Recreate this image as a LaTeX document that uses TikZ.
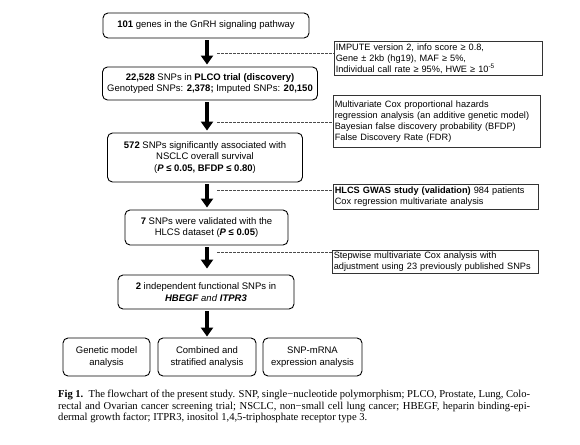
\documentclass[tikz,border=0pt]{standalone}
\usepackage{fontspec}
\setmainfont{Liberation Sans}
\newfontfamily\capfont{Liberation Serif}
\usetikzlibrary{arrows.meta,calc}
\tikzset{
  mainbox/.style={draw=black, line width=0.9pt, rounded corners=5pt, align=center, font=\fontsize{9.5}{11.5}\selectfont, inner sep=1pt},
  notebox/.style={draw=black!80, line width=0.6pt, anchor=north west, align=left, font=\fontsize{9.2}{11}\selectfont, inner sep=1.5pt},
  bigarrow/.style={line width=4.5pt, -{Triangle[length=9pt,width=12pt]}, shorten <=2pt, shorten >=2pt},
  dashline/.style={draw=black!70, line width=0.6pt, dash pattern=on 2.5pt off 1.5pt}
}
\begin{document}
\begin{tikzpicture}[x=1pt,y=-1pt]
\useasboundingbox[fill=white] (0,0) rectangle (580,444);
% main boxes
\node[mainbox, minimum width=206pt, minimum height=25pt] (b1) at (206,25.5) {\textbf{101} genes in the GnRH signaling pathway};
\node[mainbox, minimum width=215pt, minimum height=33pt] (b2) at (210,83.5) {\textbf{22,528} SNPs in \textbf{PLCO trial (discovery)}\\Genotyped SNPs: \textbf{2,378;} Imputed SNPs: \textbf{20,150}};
\node[mainbox, minimum width=195pt, minimum height=49pt] (b3) at (205,157.5) {\textbf{572} SNPs significantly associated with\\NSCLC overall survival\\(\textbf{\textit{P} ≤ 0.05, BFDP ≤ 0.80})};
\node[mainbox, minimum width=163pt, minimum height=35pt] (b4) at (206.5,227.5) {\textbf{7} SNPs were validated with the\\HLCS dataset (\textbf{\textit{P} ≤ 0.05})};
\node[mainbox, minimum width=176pt, minimum height=34pt] (b5) at (206,292) {\textbf{2} independent functional SNPs in\\\textbf{\textit{HBEGF}} \textit{and} \textbf{\textit{ITPR3}}};
\node[mainbox, minimum width=87pt, minimum height=38pt] (c1) at (106.5,357) {Genetic model\\analysis};
\node[mainbox, minimum width=98pt, minimum height=38pt] (c2) at (207,357) {Combined and\\stratified analysis};
\node[mainbox, minimum width=99pt, minimum height=38pt] (c3) at (312.5,357) {SNP-mRNA\\expression analysis};
% arrows
\draw[bigarrow] (b1.south -| 207,0) -- (b2.north -| 207,0);
\draw[bigarrow] (b2.south -| 207,0) -- (b3.north -| 207,0);
\draw[bigarrow] (b3.south -| 207,0) -- (b4.north -| 207,0);
\draw[bigarrow, shorten >=6pt] (b4.south -| 207,0) -- (b5.north -| 207,0);
\draw[bigarrow, shorten >=1pt] (b5.south -| 207,0) -- (c2.north -| 207,0);
% note boxes
\node[notebox, text width=205pt, minimum height=34pt] (r1) at (334,41) {IMPUTE version 2, info score ≥ 0.8,\\Gene ± 2kb (hg19), MAF ≥ 5\%,\\Individual call rate ≥ 95\%, HWE ≥ 10\textsuperscript{-5}};
\node[notebox, text width=204pt, minimum height=52pt] (r2) at (333,95) {Multivariate Cox proportional hazards\\regression analysis (an additive genetic model)\\Bayesian false discovery probability (BFDP)\\False Discovery Rate (FDR)};
\node[notebox, text width=202pt, minimum height=25pt] (r3) at (333,184) {\textbf{HLCS GWAS study (validation)} 984 patients\\Cox regression multivariate analysis};
\node[notebox, text width=203pt, minimum height=23pt] (r4) at (332,250) {Stepwise multivariate Cox analysis with\\adjustment using 23 previously published SNPs};
% dashed connectors
\coordinate (d1) at (217,53);
\coordinate (d2) at (217,122);
\coordinate (d3) at (217,190);
\coordinate (d4) at (217,252);
\draw[dashline] (d1) -- (d1 -| r1.west);
\draw[dashline] (d2) -- (d2 -| r2.west);
\draw[dashline] (d3) -- (d3 -| r3.west);
\draw[dashline] (d4) -- (d4 -| r4.west);
% caption
\node[anchor=north west, text width=472pt, align=justify, inner sep=0pt, font=\capfont\fontsize{10.6}{11.5}\selectfont] (cap) at (58,390) {\textbf{Fig 1.}\enspace The flowchart of the present study. SNP, single−nucleotide polymorphism; PLCO, Prostate, Lung, Colo-\linebreak rectal and Ovarian cancer screening trial; NSCLC, non−small cell lung cancer; HBEGF, heparin binding-epi-\linebreak dermal growth factor; ITPR3, inositol 1,4,5-triphosphate receptor type 3.};
\end{tikzpicture}
\end{document}
